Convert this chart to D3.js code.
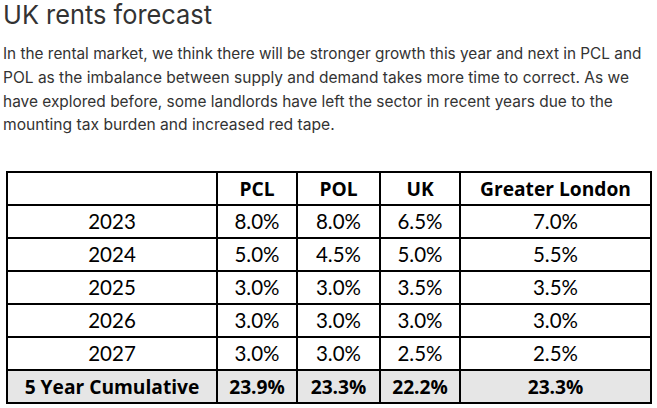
<!DOCTYPE html>
<html>
<head>
<meta charset="utf-8">
<script src="https://cdn.jsdelivr.net/npm/d3@7"></script>
<style>
  html, body { margin: 0; padding: 0; background: #fff; }
  svg { display: block; }
</style>
</head>
<body>
<svg id="chart" width="657" height="408"></svg>
<script>
const title = "UK rents forecast";
const paragraphLines = [
  "In the rental market, we think there will be stronger growth this year and next in PCL and",
  "POL as the imbalance between supply and demand takes more time to correct. As we",
  "have explored before, some landlords have left the sector in recent years due to the",
  "mounting tax burden and increased red tape."
];
const columns = ["", "PCL", "POL", "UK", "Greater London"];
const years = ["2023", "2024", "2025", "2026", "2027"];
const pcl = ["8.0%", "5.0%", "3.0%", "3.0%", "3.0%"];
const pol = ["8.0%", "4.5%", "3.0%", "3.0%", "3.0%"];
const uk = ["6.5%", "5.0%", "3.5%", "3.0%", "2.5%"];
const greaterLondon = ["7.0%", "5.5%", "3.5%", "3.0%", "2.5%"];
const totalLabel = "5 Year Cumulative";
const totals = ["23.9%", "23.3%", "22.2%", "23.3%"];

const svg = d3.select("#chart");

svg.append("text")
  .attr("x", 3).attr("y", 24)
  .attr("font-family", "Inter, 'Noto Sans', sans-serif")
  .attr("font-size", 26)
  .attr("fill", "#333")
  .attr("textLength", 209)
  .attr("lengthAdjust", "spacingAndGlyphs")
  .text(title);

// paragraph: pick a size whose natural width matches the reference line extent
const lineEnds = [642, 629, 613, 335];
svg.append("g").selectAll("text").data(paragraphLines).join("text")
  .attr("x", 3)
  .attr("y", (d, i) => 59.3 + i * 23.6)
  .attr("font-family", "Inter, 'Noto Sans', sans-serif")
  .attr("font-size", 16)
  .attr("fill", "#333")
  .text(d => d)
  .each(function(d, i) {
    const sel = d3.select(this);
    const natural = this.getComputedTextLength();
    const target = lineEnds[i] - 3;
    sel.attr("font-size", 16 * target / natural);
  });

// table rows
const rows = [columns.slice()];
years.forEach((yr, i) => rows.push([yr, pcl[i], pol[i], uk[i], greaterLondon[i]]));
rows.push([totalLabel, ...totals]);

const y = d3.scaleBand().domain(d3.range(rows.length)).range([172, 403]).paddingInner(0).paddingOuter(0);
const colEdges = [7, 217, 297, 380, 460, 651];
const x = d3.scaleOrdinal().domain(d3.range(columns.length)).range(colEdges.slice(0, -1));
const w = d3.scaleOrdinal().domain(d3.range(columns.length)).range(colEdges.slice(1).map((e, i) => e - colEdges[i]));

const g = svg.append("g");

g.append("rect")
  .attr("x", colEdges[0]).attr("y", y(rows.length - 1))
  .attr("width", colEdges[colEdges.length - 1] - colEdges[0])
  .attr("height", y.bandwidth())
  .attr("fill", "#e6e6e6");

const isBold = ri => ri === 0 || ri === rows.length - 1;
const rowG = g.selectAll("g.row").data(rows).join("g").attr("class", "row");
rowG.selectAll("text").data((d, ri) => d.map((v, ci) => ({v, ci, ri}))).join("text")
  .attr("x", d => x(d.ci) + w(d.ci) / 2)
  .attr("y", d => y(d.ri) + y.bandwidth() / 2 + 7.5)
  .attr("text-anchor", "middle")
  .attr("font-family", d => isBold(d.ri) ? "'Open Sans', Lato, sans-serif" : "Lato, 'Open Sans', sans-serif")
  .attr("font-size", d => isBold(d.ri) ? 19.2 : 20.5)
  .attr("font-weight", d => isBold(d.ri) ? "bold" : "normal")
  .attr("fill", "#000")
  .text(d => d.v);

const lines = g.append("g").attr("stroke", "#000").attr("stroke-width", 2).attr("shape-rendering", "crispEdges");
d3.range(rows.length + 1).forEach(i => {
  const yy = i < rows.length ? y(i) : y(rows.length - 1) + y.bandwidth();
  lines.append("line").attr("x1", colEdges[0] - 1).attr("x2", colEdges[5] + 1).attr("y1", yy).attr("y2", yy);
});
colEdges.forEach(e => {
  lines.append("line").attr("x1", e).attr("x2", e).attr("y1", 172).attr("y2", 403);
});
</script>
</body>
</html>
